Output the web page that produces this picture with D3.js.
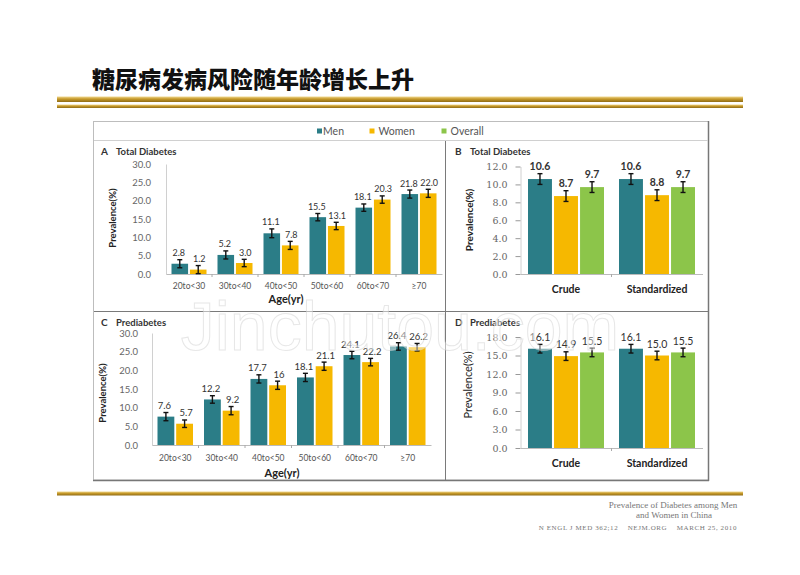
<!DOCTYPE html>
<html><head><meta charset="utf-8">
<script src="https://cdn.jsdelivr.net/npm/d3@7"></script>
<style>body{margin:0;background:#fff}svg{display:block}</style>
</head><body>
<svg id="c" width="800" height="575"></svg>
<script>
// ---------- data ----------
const ageGroups = ["20to<30","30to<40","40to<50","50to<60","60to<70","≥70"];
const methods = ["Crude","Standardized"];
const seriesNames = ["Men","Women","Overall"];

const totalMen   = [2.8, 5.2, 11.1, 15.5, 18.1, 21.8];
const totalWomen = [1.2, 3.0, 7.8, 13.1, 20.3, 22.0];
const totalMenErr   = [1.1, 1.1, 1.2, 1.0, 1.0, 1.1];
const totalWomenErr = [1.1, 1.0, 1.1, 1.0, 1.0, 1.1];
const totalMenLbl   = ["2.8","5.2","11.1","15.5","18.1","21.8"];
const totalWomenLbl = ["1.2","3.0","7.8","13.1","20.3","22.0"];

const totalStdMen     = [10.6, 10.6];
const totalStdWomen   = [8.7, 8.8];
const totalStdOverall = [9.7, 9.7];
const totalStdErr     = [0.6, 0.6];

const preMen   = [7.6, 12.2, 17.7, 18.1, 24.1, 26.4];
const preWomen = [5.7, 9.2, 16.0, 21.1, 22.2, 26.2];
const preMenErr   = [1.1, 1.0, 1.1, 1.1, 1.0, 1.0];
const preWomenErr = [1.0, 1.1, 1.1, 1.1, 1.0, 1.0];
const preMenLbl   = ["7.6","12.2","17.7","18.1","24.1","26.4"];
const preWomenLbl = ["5.7","9.2","16","21.1","22.2","26.2"];

const preStdMen     = [16.1, 16.1];
const preStdWomen   = [14.9, 15.0];
const preStdOverall = [15.5, 15.5];
const preStdErr     = [0.7, 0.7];

const ticksA = [0,5,10,15,20,25,30];
const ticksB = [0,2,4,6,8,10,12];
const ticksD = [0,3,6,9,12,15,18];

const colors = {Men:"#2b7d87", Women:"#f6b800", Overall:"#8cc54a"};

// ---------- drawing ----------
const svg = d3.select("#c");
const defs = svg.append("defs");
const g1 = defs.append("linearGradient").attr("id","gold").attr("x1",0).attr("y1",0).attr("x2",0).attr("y2",1);
g1.append("stop").attr("offset","0%").attr("stop-color","#f0d890");
g1.append("stop").attr("offset","45%").attr("stop-color","#c79a2a");
g1.append("stop").attr("offset","100%").attr("stop-color","#8f6c16");

const sans = "Lato, 'Open Sans', sans-serif";

// Title
svg.append("text").attr("x",92).attr("y",88)
  .attr("font-family","'Noto Sans CJK SC', sans-serif").attr("font-weight",900)
  .attr("font-size",23).attr("fill","#111").text("糖尿病发病风险随年龄增长上升");

// gold rules
svg.append("rect").attr("x",57).attr("y",96.5).attr("width",686).attr("height",5.5).attr("fill","url(#gold)");
svg.append("rect").attr("x",57).attr("y",104.5).attr("width",686).attr("height",3.5).attr("fill","url(#gold)");
svg.append("rect").attr("x",57).attr("y",491.5).attr("width",686).attr("height",4).attr("fill","url(#gold)");

// frame
svg.append("rect").attr("x",93.5).attr("y",121.5).attr("width",615).attr("height",358.5)
  .attr("fill","#fff").attr("stroke","#bdbdbd");
svg.append("line").attr("x1",708.5).attr("x2",708.5).attr("y1",121).attr("y2",481).attr("stroke","#777").attr("stroke-width",1.5);
svg.append("line").attr("x1",93).attr("x2",709).attr("y1",480.5).attr("y2",480.5).attr("stroke","#777").attr("stroke-width",1.5);
svg.append("line").attr("x1",94).attr("x2",708).attr("y1",140.5).attr("y2",140.5).attr("stroke","#d0d0d0");
svg.append("line").attr("x1",94).attr("x2",708).attr("y1",311.5).attr("y2",311.5).attr("stroke","#7a7a7a");
svg.append("line").attr("x1",445.5).attr("x2",445.5).attr("y1",141).attr("y2",480).attr("stroke","#7a7a7a");

// legend
const legX = {Men:317, Women:369.5, Overall:441.5};
seriesNames.forEach(s=>{
  svg.append("rect").attr("x",legX[s]).attr("y",128.5).attr("width",5).attr("height",5).attr("fill",colors[s]);
  svg.append("text").attr("x",legX[s]+(s==="Men"?6:9)).attr("y",134.5).attr("font-family",sans)
    .attr("font-size",10.5).attr("fill","#555").text(s);
});

function panel(cfg){
  const gp = svg.append("g");
  const x = d3.scaleBand().domain(cfg.cats).range(cfg.xr).paddingInner(0).paddingOuter(0);
  const xi = d3.scaleBand().domain(cfg.series.map(s=>s.name)).range([cfg.innerPad, x.bandwidth()-cfg.innerPad]).paddingInner(cfg.gap);
  const y = d3.scaleLinear().domain([0, d3.max(cfg.ticks)]).range(cfg.yr);

  // title
  gp.append("text").attr("x",cfg.titleX).attr("y",cfg.titleY).attr("font-family",sans).attr("font-weight",700)
    .attr("font-size",10).attr("fill","#333").text(cfg.letter);
  gp.append("text").attr("x",cfg.titleX+15).attr("y",cfg.titleY).attr("font-family",sans).attr("font-weight",700)
    .attr("font-size",9.5).attr("fill","#333").text(cfg.title);

  // y axis
  const ya = d3.axisLeft(y).tickValues(cfg.ticks).tickFormat(d3.format(".1f"))
    .tickSizeInner(cfg.tickSize).tickSizeOuter(0).tickPadding(cfg.tickPad);
  const yg = gp.append("g").attr("transform",`translate(${cfg.xr[0]},0)`).call(ya);
  yg.select(".domain").attr("stroke","#d0d0d0");
  yg.selectAll(".tick line").attr("stroke","#999");
  yg.selectAll(".tick text").attr("font-family",cfg.tickFont).attr("font-size",cfg.tickFs).attr("fill","#666");

  // x axis
  const xa = d3.axisBottom(x).tickSize(0).tickPadding(cfg.xPad);
  const xg = gp.append("g").attr("transform",`translate(0,${cfg.yr[0]})`).call(xa);
  xg.select(".domain").attr("stroke","#bbb");
  xg.selectAll(".tick text").attr("font-family",sans).attr("font-size",cfg.xFs)
    .attr("font-weight",cfg.xBold?700:400).attr("fill",cfg.xBold?"#222":"#555");
  // boundary ticks
  cfg.cats.slice(1).forEach(c=>{
    gp.append("line").attr("x1",x(c)).attr("x2",x(c)).attr("y1",cfg.yr[0]).attr("y2",cfg.yr[0]+3).attr("stroke","#aaa");
  });

  // axis titles
  gp.append("text").attr("transform",`translate(${cfg.ylabX},${cfg.ylabY}) rotate(-90)`).attr("text-anchor","middle")
    .attr("font-family",sans).attr("font-weight",cfg.ylabBold?700:400).attr("font-size",cfg.ylabFs).attr("fill","#222").text("Prevalence(%)");
  if(cfg.xTitle){
    gp.append("text").attr("x",cfg.xTitleX).attr("y",cfg.xTitleY).attr("text-anchor","middle")
      .attr("font-family",sans).attr("font-weight",700).attr("font-size",11).attr("fill","#222").text(cfg.xTitle);
  }

  // bars
  const nS = cfg.series.length;
  cfg.series.forEach((s,si)=>{
    cfg.cats.forEach((c,i)=>{
      const bx = x(c)+xi(s.name), bw = xi.bandwidth(), v = s.values[i], e = s.err[i];
      gp.append("rect").attr("x",bx).attr("y",y(v)).attr("width",bw).attr("height",y(0)-y(v)).attr("fill",colors[s.name]);
      const cx = bx+bw/2;
      gp.append("line").attr("x1",cx).attr("x2",cx).attr("y1",y(v+e)).attr("y2",y(v-e)).attr("stroke","#111").attr("stroke-width",1.4);
      [v+e, v-e].forEach(t=>gp.append("line").attr("x1",cx-2.5).attr("x2",cx+2.5).attr("y1",y(t)).attr("y2",y(t)).attr("stroke","#111").attr("stroke-width",1.4));
      // slight outward nudge for the two-series panels so adjacent labels don't collide
      const nudge = nS===2 ? (si===0 ? -cfg.nudge : cfg.nudge) : 0;
      gp.append("text").attr("x",cx+nudge).attr("y",y(v+e)-3.5).attr("text-anchor","middle")
        .attr("font-family",sans).attr("font-size",cfg.valFs).attr("font-weight",cfg.valBold?700:400)
        .attr("fill","#333").text(s.labels[i]);
    });
  });
}

panel({letter:"A", title:"Total Diabetes", titleX:101, titleY:155,
  cats:ageGroups, xr:[166,442], yr:[274,164], ticks:ticksA, innerPad:5.5, gap:0.1,
  tickSize:0, tickPad:15, tickFont:sans, tickFs:9.5, xPad:9, xFs:8.5, xBold:false,
  ylabX:116, ylabY:218, ylabFs:9.5, ylabBold:true, xTitle:"Age(yr)", xTitleX:286, xTitleY:303,
  valFs:9, valBold:false, nudge:1,
  series:[{name:"Men",values:totalMen,err:totalMenErr,labels:totalMenLbl},
          {name:"Women",values:totalWomen,err:totalWomenErr,labels:totalWomenLbl}]});

panel({letter:"B", title:"Total Diabetes", titleX:455, titleY:155,
  cats:methods, xr:[520.5,702.5], yr:[274,166.5], ticks:ticksB, innerPad:7.5, gap:0.08,
  tickSize:5, tickPad:8, tickFont:"'DejaVu Serif', serif", tickFs:9.5, xPad:12, xFs:10.5, xBold:true,
  ylabX:473, ylabY:220, ylabFs:10, ylabBold:true, xTitle:null,
  valFs:10.5, valBold:true, nudge:0,
  series:[{name:"Men",values:totalStdMen,err:totalStdErr,labels:totalStdMen.map(d=>d.toFixed(1))},
          {name:"Women",values:totalStdWomen,err:totalStdErr,labels:totalStdWomen.map(d=>d.toFixed(1))},
          {name:"Overall",values:totalStdOverall,err:totalStdErr,labels:totalStdOverall.map(d=>d.toFixed(1))}]});

panel({letter:"C", title:"Prediabetes", titleX:101, titleY:326,
  cats:ageGroups, xr:[152,431], yr:[445,333], ticks:ticksA, innerPad:5.5, gap:0.1,
  tickSize:0, tickPad:14, tickFont:sans, tickFs:9.5, xPad:10, xFs:8.5, xBold:false,
  ylabX:106, ylabY:393, ylabFs:9.5, ylabBold:true, xTitle:"Age(yr)", xTitleX:282, xTitleY:477,
  valFs:9.5, valBold:false, nudge:1.5,
  series:[{name:"Men",values:preMen,err:preMenErr,labels:preMenLbl},
          {name:"Women",values:preWomen,err:preWomenErr,labels:preWomenLbl}]});

panel({letter:"D", title:"Prediabetes", titleX:455, titleY:326,
  cats:methods, xr:[520.5,702.5], yr:[448,337], ticks:ticksD, innerPad:7.5, gap:0.08,
  tickSize:5, tickPad:8, tickFont:"'DejaVu Serif', serif", tickFs:9.5, xPad:12, xFs:10.5, xBold:true,
  ylabX:472, ylabY:385, ylabFs:11, ylabBold:false, xTitle:null,
  valFs:10.5, valBold:false, nudge:0,
  series:[{name:"Men",values:preStdMen,err:preStdErr,labels:preStdMen.map(d=>d.toFixed(1))},
          {name:"Women",values:preStdWomen,err:preStdErr,labels:preStdWomen.map(d=>d.toFixed(1))},
          {name:"Overall",values:preStdOverall,err:preStdErr,labels:preStdOverall.map(d=>d.toFixed(1))}]});

// watermark
svg.append("text").attr("x",400).attr("y",350).attr("text-anchor","middle")
  .attr("font-family","'Liberation Sans', Arial, sans-serif").attr("font-size",68)
  .attr("fill","#ffffff").attr("fill-opacity",0.45).attr("stroke","#cfcfcf").attr("stroke-opacity",0.5).attr("stroke-width",1)
  .text("Jinchutou.com");

// footer
const serif = "'Liberation Serif', 'DejaVu Serif', serif";
svg.append("text").attr("x",673).attr("y",508).attr("text-anchor","middle").attr("font-family",serif)
  .attr("font-size",9).attr("fill","#777").text("Prevalence of Diabetes among Men");
svg.append("text").attr("x",674).attr("y",517.5).attr("text-anchor","middle").attr("font-family",serif)
  .attr("font-size",9).attr("fill","#777").text("and Women in China");
svg.append("text").attr("x",737).attr("y",530).attr("text-anchor","end").attr("font-family",serif)
  .attr("font-size",7).attr("letter-spacing",0.6).attr("fill","#777").text("N ENGL J MED 362;12    NEJM.ORG    MARCH 25, 2010")
  .attr("xml:space","preserve").style("white-space","pre");
</script>
</body></html>
